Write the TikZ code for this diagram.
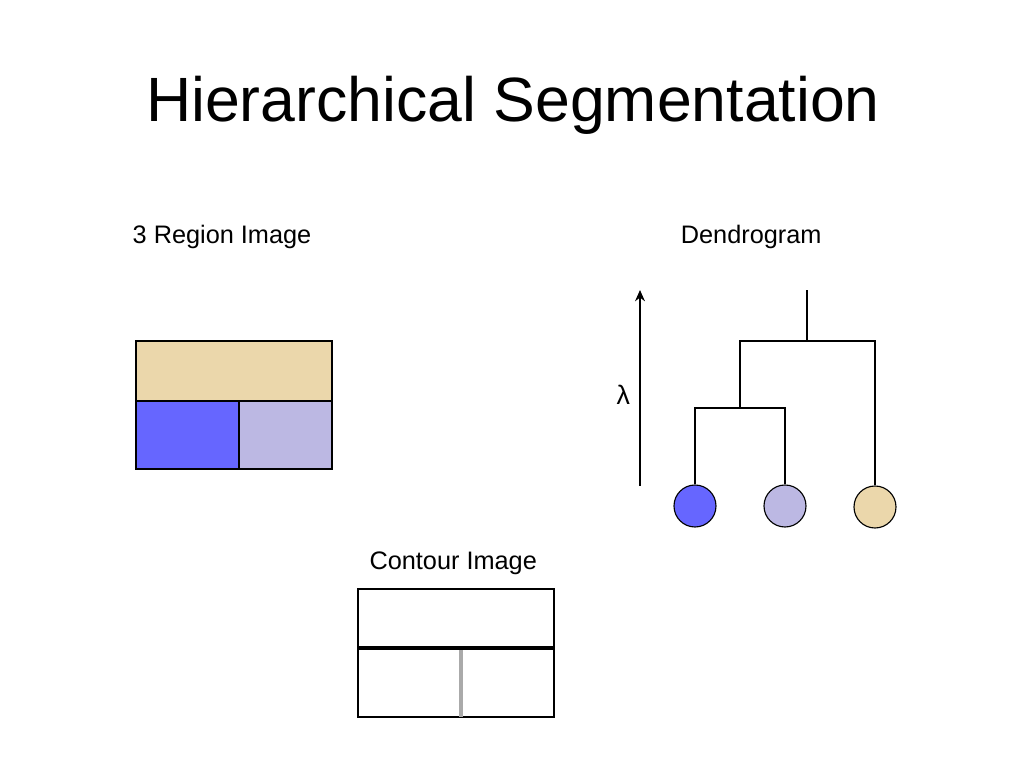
\documentclass[tikz,border=0pt]{standalone}
\usepackage{fontspec}
\setmainfont{Liberation Sans}
\usetikzlibrary{arrows.meta}

\definecolor{regtan}{RGB}{235,215,171}
\definecolor{regblue}{RGB}{102,102,255}
\definecolor{reglav}{RGB}{188,184,227}
\definecolor{edgegray}{RGB}{170,170,170}

\begin{document}
\begin{tikzpicture}[
  label/.style={font=\fontsize{18}{20}\selectfont, anchor=base},
  tree/.style={line width=1.5pt},
  leaf/.style={circle, draw, line width=0.8pt, minimum size=1.05cm, inner sep=0pt}
]
\useasboundingbox (0,0) rectangle (25.6,19.2);

\node[anchor=base, font=\fontsize{44.5}{48}\selectfont] (title) at (12.825,16.15) {Hierarchical Segmentation};

\node[label] (regionlbl) at (5.55,13.1) {3 Region Image};
\node[label] (dendrolbl) at (18.78,13.1) {Dendrogram};
\node[label] (contourlbl) at (11.33,4.95) {Contour Image};

% region image
\fill[regtan] (3.4,9.175) rectangle (8.3,10.675);
\fill[regblue] (3.4,7.475) rectangle (5.975,9.175);
\fill[reglav] (5.975,7.475) rectangle (8.3,9.175);
\draw[line width=0.8pt] (3.4,7.475) rectangle (8.3,10.675);
\draw[line width=0.8pt] (3.4,9.175) -- (8.3,9.175);
\draw[line width=0.8pt] (5.975,7.475) -- (5.975,9.175);

% contour image
\draw[line width=0.8pt] (8.95,1.275) rectangle (13.85,4.475);
\draw[edgegray, line width=3pt] (11.52,1.275) -- (11.52,3.0);
\draw[line width=2.6pt] (8.95,3.0) -- (13.85,3.0);

% dendrogram
\draw[tree, -{Stealth[length=8pt,width=7pt]}] (16.0,7.05) -- (16.0,11.95);
\node[font=\fontsize{19}{20}\selectfont, anchor=base] (lambda) at (15.58,9.075) {λ};

\node[leaf, fill=regblue] (leafA) at (17.375,6.55) {};
\node[leaf, fill=reglav] (leafB) at (19.625,6.55) {};
\node[leaf, fill=regtan] (leafC) at (21.875,6.525) {};

\coordinate (joinAB) at (18.5,9.0);
\coordinate (root) at (20.175,10.675);
\coordinate (top) at (20.175,11.95);

\draw[tree] (leafA.north) |- (joinAB) -| (leafB.north);
\draw[tree] (joinAB) |- (root) -| (leafC.north);
\draw[tree] (root) -- (top);
\end{tikzpicture}
\end{document}
